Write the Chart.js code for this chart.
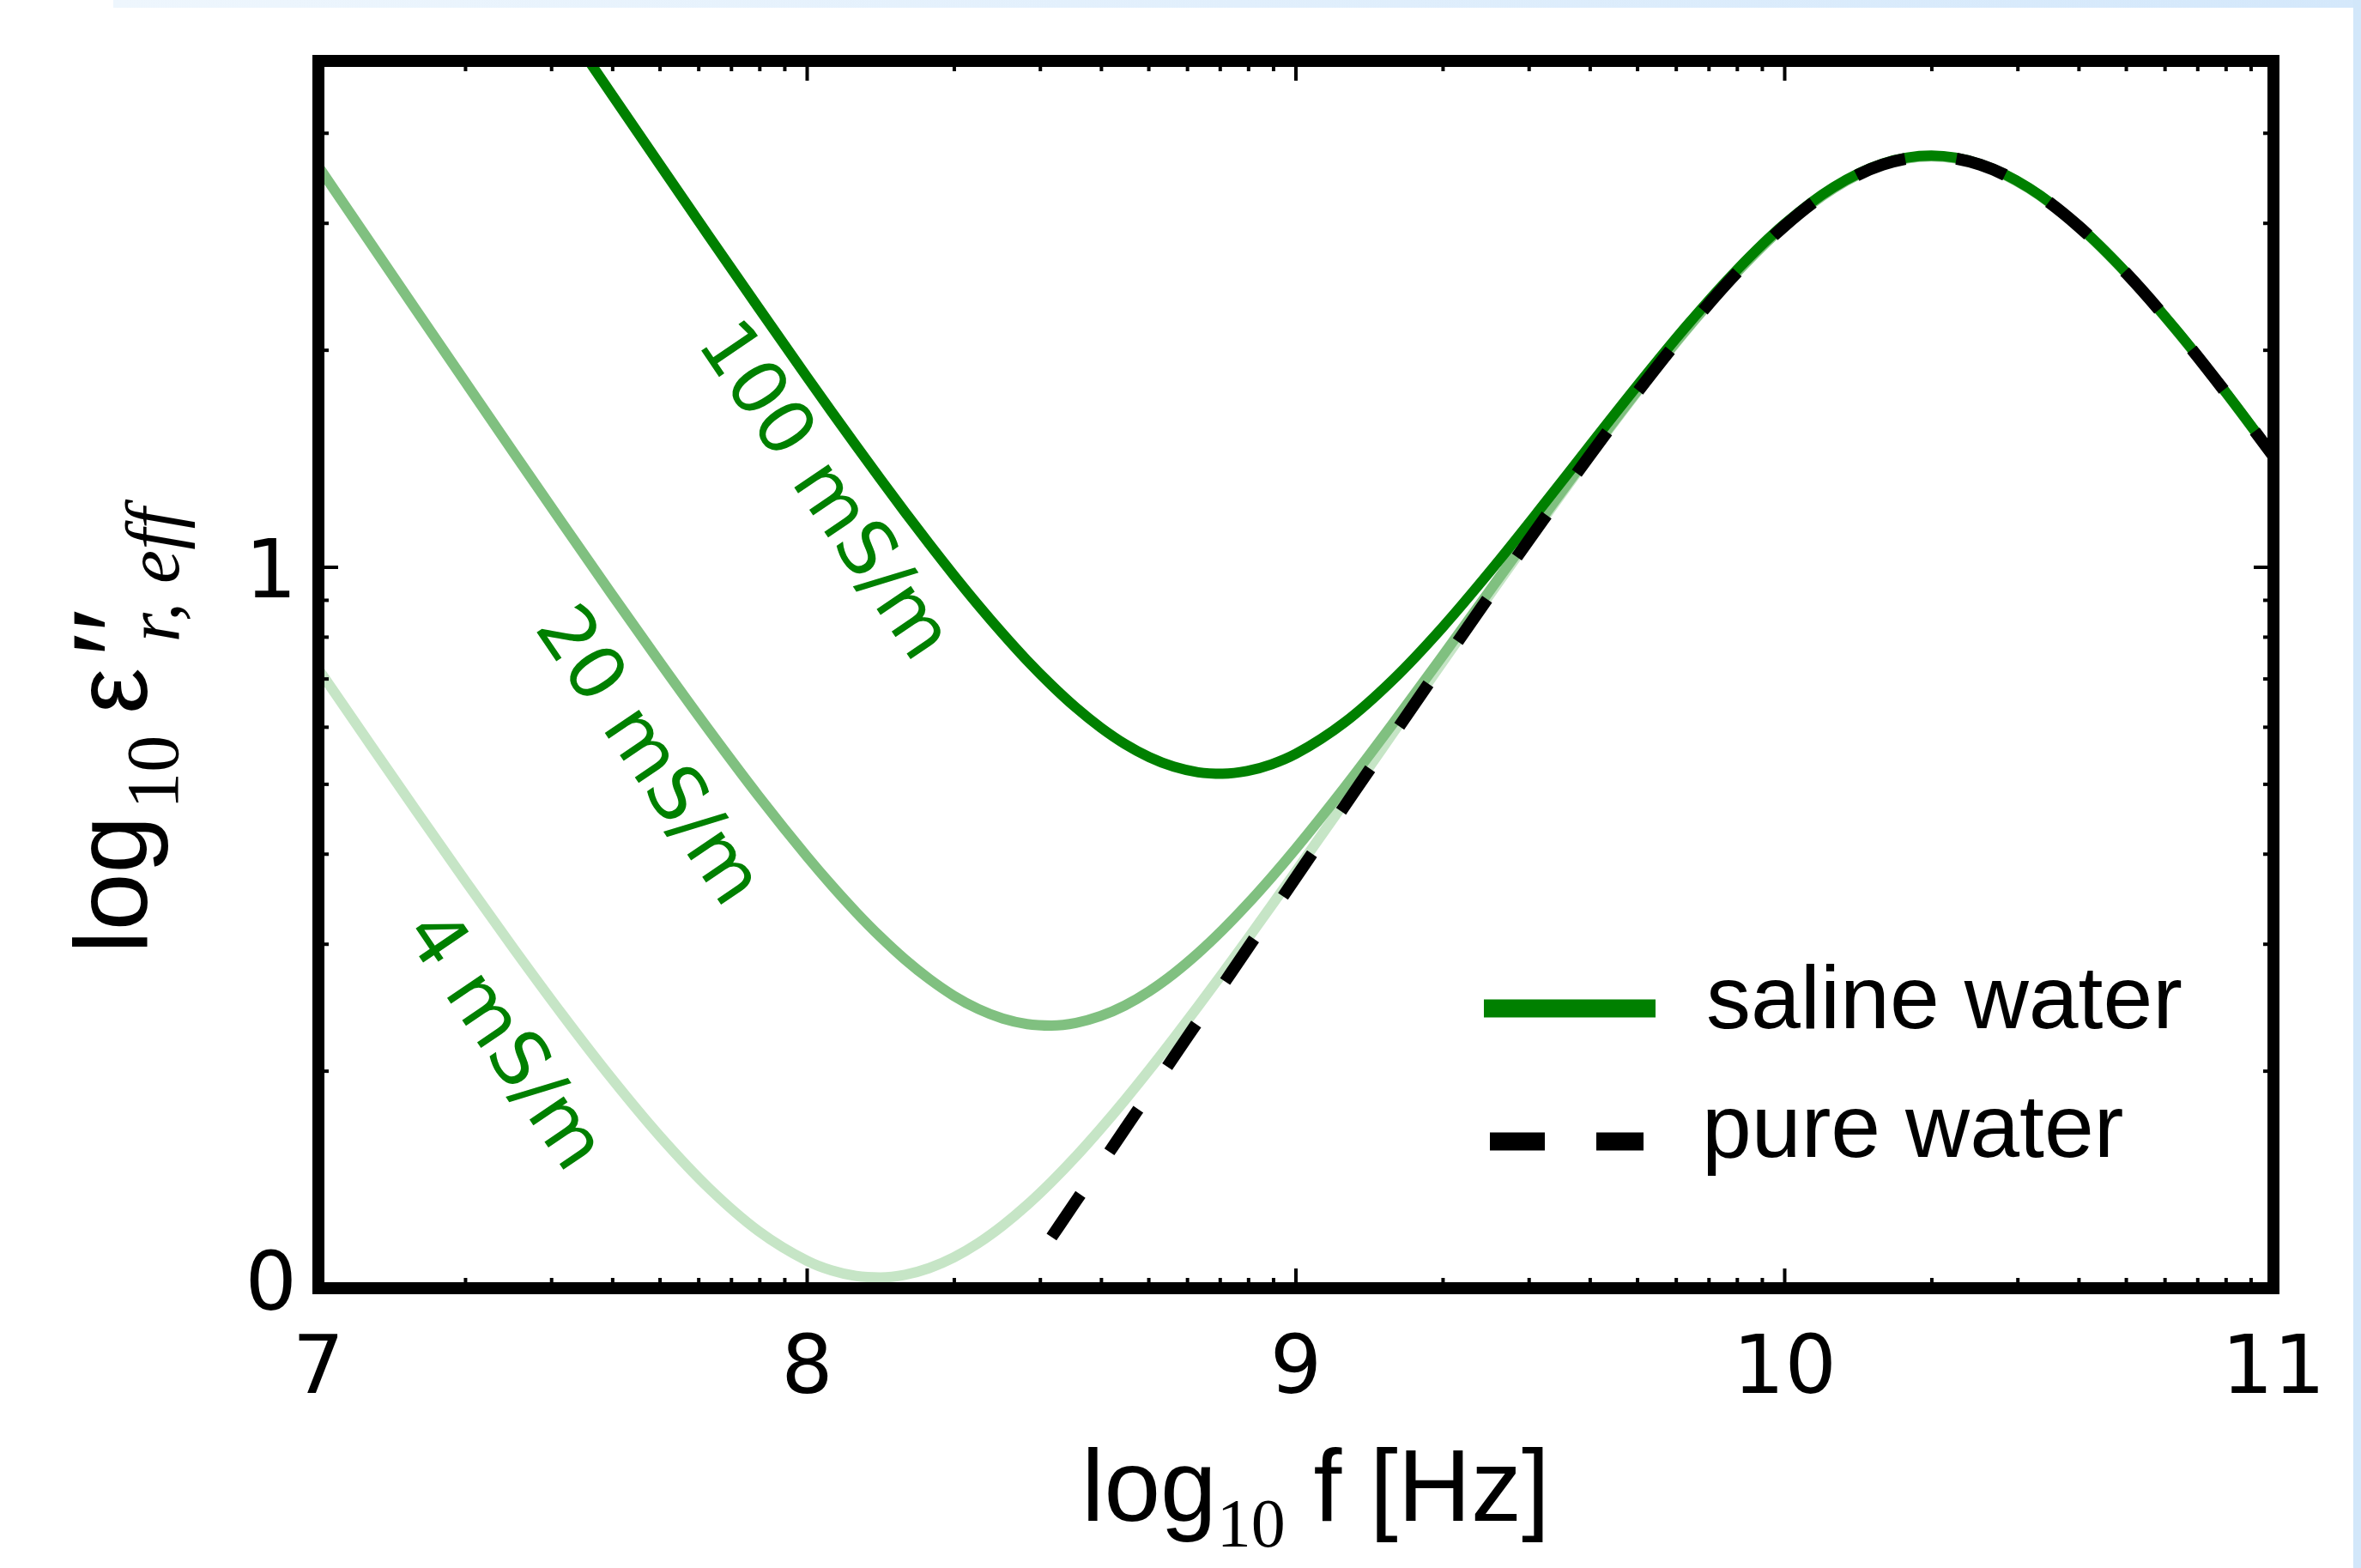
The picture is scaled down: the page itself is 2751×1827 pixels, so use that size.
<!DOCTYPE html>
<html><head><meta charset="utf-8">
<script src="https://cdn.jsdelivr.net/npm/chart.js@4.4.1/dist/chart.umd.min.js"></script>
<style>
html,body{margin:0;padding:0;background:#fff;}
body{width:2751px;height:1827px;position:relative;overflow:hidden;}
#topband{position:absolute;left:132px;top:0;width:2619px;height:9px;background:linear-gradient(to right,#eef6fd,#d4e8fb);}
#rightband{position:absolute;left:2742px;top:0;width:9px;height:1827px;background:#d2e7fa;}
#c{position:absolute;left:0;top:0;}
</style></head><body>
<div id="topband"></div><div id="rightband"></div>
<canvas id="c" width="2751" height="1827"></canvas>
<script>
// x: log10 of frequency [Hz]
const logFreq = [7.0,7.1,7.2,7.3,7.4,7.5,7.6,7.7,7.8,7.9,8.0,
  8.05,8.1,8.15,8.2,8.25,8.3,8.35,8.4,8.45,8.5,8.55,8.6,8.65,8.7,8.75,8.8,8.85,8.9,8.95,9.0,
  9.1,9.2,9.3,9.4,9.5,9.6,9.7,9.8,9.9,10.0,10.1,10.2,10.3,10.4,10.5,10.6,10.7,10.8,10.9,11.0];
// y: log10 of eps''_r,eff
const saline100 = [2.2548,2.1549,2.0549,1.9551,1.8553,1.7556,1.6562,1.5570,1.4583,1.3604,1.2636,
  1.2159,1.1687,1.1223,1.0767,1.0323,0.9891,0.9476,0.9081,0.8708,0.8365,0.8053,0.7780,0.7549,0.7366,0.7234,0.7157,0.7137,0.7173,0.7267,0.7413,
  0.7851,0.8450,0.9168,0.9967,1.0812,1.1676,1.2532,1.3354,1.4109,1.4763,1.5273,1.5599,1.5710,1.5594,1.5262,1.4743,1.4077,1.3302,1.2450,1.1546];
const saline20 = [1.5561,1.4564,1.3568,1.2575,1.1585,1.0602,0.9628,0.8669,0.7733,0.6832,0.5985,
  0.5589,0.5217,0.4873,0.4561,0.4288,0.4056,0.3873,0.3741,0.3664,0.3644,0.3681,0.3775,0.3922,0.4120,0.4364,0.4649,0.4970,0.5322,0.5700,0.6100,
  0.6950,0.7847,0.8772,0.9709,1.0645,1.1568,1.2462,1.3308,1.4079,1.4742,1.5258,1.5588,1.5702,1.5587,1.5256,1.4738,1.4072,1.3297,1.2445,1.1541];
const saline4 = [0.8589,0.7603,0.6623,0.5656,0.4707,0.3787,0.2910,0.2098,0.1381,0.0795,0.0380,
  0.0247,0.0170,0.0149,0.0186,0.0280,0.0427,0.0625,0.0869,0.1154,0.1476,0.1828,0.2208,0.2609,0.3029,0.3464,0.3912,0.4369,0.4834,0.5306,0.5782,
  0.6745,0.7716,0.8688,0.9655,1.0611,1.1546,1.2448,1.3298,1.4072,1.4738,1.5255,1.5586,1.5700,1.5586,1.5255,1.4737,1.4071,1.3296,1.2444,1.1540];
const pureWater = [null,null,null,null,null,null,null,null,null,null,null,
  null,null,null,null,null,null,null,null,null,0.0709,0.1209,0.1708,0.2208,0.2707,0.3207,0.3705,0.4204,0.4703,0.5201,0.5699,
  0.6692,0.7683,0.8667,0.9642,1.0602,1.1540,1.2444,1.3296,1.4071,1.4737,1.5255,1.5585,1.5700,1.5585,1.5255,1.4737,1.4071,1.3296,1.2444,1.1540];

const seriesNames = ['saline water','pure water'];
const curveLabels = ['100 mS/m','20 mS/m','4 mS/m'];
const xTickValues = [7,8,9,10,11];
const xTickLabels = ['7','8','9','10','11'];
const yTickValues = [0,1];
const yTickLabels = ['0','1'];
const minorFactors = [2,3,4,5,6,7,8,9];

// layout (not data)
const labelAnchors = [{x:8.029,y:1.1036},{x:7.669,y:0.7357},{x:7.374,y:0.3405}];
const FRAME = 14;

const toPts = arr => logFreq.map((f,i)=>({x:f,y:arr[i]}));

const deco = {
  id:'deco',
  afterDatasetsDraw(chart){
    const {ctx, chartArea:a} = chart;
    const xs = chart.scales.x, ys = chart.scales.y;
    ctx.save();
    // curve labels, rotated along the slope -1 direction
    const ang = Math.atan2(ys.getPixelForValue(0)-ys.getPixelForValue(1), xs.getPixelForValue(1)-xs.getPixelForValue(0));
    ctx.font = '88px "DejaVu Sans"';
    ctx.fillStyle = '#008000';
    ctx.textAlign = 'center'; ctx.textBaseline = 'middle';
    curveLabels.forEach((t,i)=>{
      const p = labelAnchors[i];
      ctx.save();
      ctx.translate(xs.getPixelForValue(p.x), ys.getPixelForValue(p.y));
      ctx.rotate(ang);
      ctx.fillText(t,0,0);
      ctx.restore();
    });
    // frame
    ctx.strokeStyle = '#000'; ctx.lineWidth = FRAME; ctx.lineJoin = 'miter';
    ctx.strokeRect(a.left,a.top,a.right-a.left,a.bottom-a.top);
    // ticks (inward, all four sides)
    ctx.lineWidth = 4; ctx.lineCap = 'butt';
    const h = FRAME/2, MAJ = h+16, MIN = h+5;
    const line=(x1,y1,x2,y2)=>{ctx.beginPath();ctx.moveTo(x1,y1);ctx.lineTo(x2,y2);ctx.stroke();};
    const xMinor = [], yMinor = [];
    for (let d=xs.min; d<xs.max; d++) minorFactors.forEach(k=>xMinor.push(d+Math.log10(k)));
    for (let d=Math.floor(ys.min); d<ys.max; d++) minorFactors.forEach(k=>{const v=d+Math.log10(k); if(v<ys.max) yMinor.push(v);});
    xTickValues.forEach(v=>{const p=xs.getPixelForValue(v); line(p,a.bottom,p,a.bottom-MAJ); line(p,a.top,p,a.top+MAJ);});
    xMinor.forEach(v=>{const p=xs.getPixelForValue(v); line(p,a.bottom,p,a.bottom-MIN); line(p,a.top,p,a.top+MIN);});
    yTickValues.forEach(v=>{const p=ys.getPixelForValue(v); line(a.left,p,a.left+MAJ,p); line(a.right,p,a.right-MAJ,p);});
    yMinor.forEach(v=>{const p=ys.getPixelForValue(v); line(a.left,p,a.left+MIN,p); line(a.right,p,a.right-MIN,p);});
    // tick labels
    ctx.fillStyle = '#000';
    ctx.font = '95px "DejaVu Sans"';
    ctx.textBaseline = 'alphabetic';
    ctx.textAlign = 'center';
    xTickValues.forEach((v,i)=>ctx.fillText(xTickLabels[i], xs.getPixelForValue(v), a.bottom+122));
    ctx.textAlign = 'right';
    yTickValues.forEach((v,i)=>ctx.fillText(yTickLabels[i], a.left-25, Math.min(ys.getPixelForValue(v)+35, a.bottom+25)));
    // x title: log10 f [Hz]
    ctx.textAlign = 'left';
    const fMain = '118px "Liberation Sans"', fSub = '80px "Liberation Serif"';
    ctx.font = fMain; const w1 = ctx.measureText('log').width, w3 = ctx.measureText(' f [Hz]').width;
    ctx.font = fSub; const w2 = ctx.measureText('10').width;
    const x0 = (a.left+a.right)/2 + 23 - (w1+w2+w3)/2, by = a.bottom + 271;
    ctx.font = fMain; ctx.fillText('log', x0, by);
    ctx.font = fSub; ctx.fillText('10', x0+w1, by+30);
    ctx.font = fMain; ctx.fillText(' f [Hz]', x0+w1+w2, by);
    // y title: log10 eps''_{r, eff}
    ctx.save();
    ctx.translate(a.left-200, a.bottom-390);
    ctx.rotate(-Math.PI/2);
    ctx.font = '120px "Liberation Sans"'; ctx.fillText('log',0,0);
    let cx = ctx.measureText('log').width + 8;
    ctx.font = '86px "Liberation Serif"'; ctx.fillText('10',cx,36);
    cx += ctx.measureText('10').width + 25;
    ctx.font = '120px "Liberation Sans"'; ctx.fillText('\u03B5',cx,0);
    cx += ctx.measureText('\u03B5').width;
    ctx.font = 'italic 150px "Liberation Serif"'; ctx.fillText('\u2033',cx+2,14);
    ctx.font = 'italic 88px "Liberation Serif"'; ctx.fillText('r, eff',cx+30,37);
    ctx.restore();
    // legend
    const sal = chart.data.datasets.find(d=>d.label===seriesNames[0]);
    const pur = chart.data.datasets.find(d=>d.label===seriesNames[1]);
    ctx.lineWidth = 21;
    ctx.strokeStyle = sal.borderColor;
    line(a.left+1358, a.top+1104, a.left+1558, a.top+1104);
    ctx.strokeStyle = pur.borderColor;
    ctx.setLineDash([64,60]);
    line(a.left+1365, a.top+1259, a.left+1544, a.top+1259);
    ctx.setLineDash([]);
    ctx.fillStyle = '#000';
    ctx.font = '104px "Liberation Sans"';
    ctx.fillText(seriesNames[0], a.left+1617, a.top+1127);
    ctx.fillText(seriesNames[1], a.left+1612, a.top+1277);
    ctx.restore();
  }
};

new Chart(document.getElementById('c'), {
  type: 'line',
  data: {
    datasets: [
      {label: seriesNames[1], data: toPts(pureWater), borderColor:'#000000', borderWidth:14, borderDash:[60,60], order:0},
      {label: seriesNames[0], data: toPts(saline100), borderColor:'#008000', borderWidth:12, order:1},
      {label: seriesNames[0]+' 20', data: toPts(saline20), borderColor:'#80c080', borderWidth:12, order:2},
      {label: seriesNames[0]+' 4', data: toPts(saline4), borderColor:'#c6e5c6', borderWidth:12, order:3}
    ]
  },
  options: {
    responsive:false, animation:false, devicePixelRatio:1, events:[],
    parsing:true,
    elements:{point:{radius:0}, line:{cubicInterpolationMode:'monotone', fill:false, borderCapStyle:'butt'}},
    layout:{padding:{left:371, right:102, top:71, bottom:326}},
    scales:{
      x:{type:'linear', min:7, max:11, display:false},
      y:{type:'linear', min:0, max:1.7024, display:false}
    },
    plugins:{legend:{display:false}, tooltip:{enabled:false}}
  },
  plugins:[deco]
});
</script>
</body></html>
